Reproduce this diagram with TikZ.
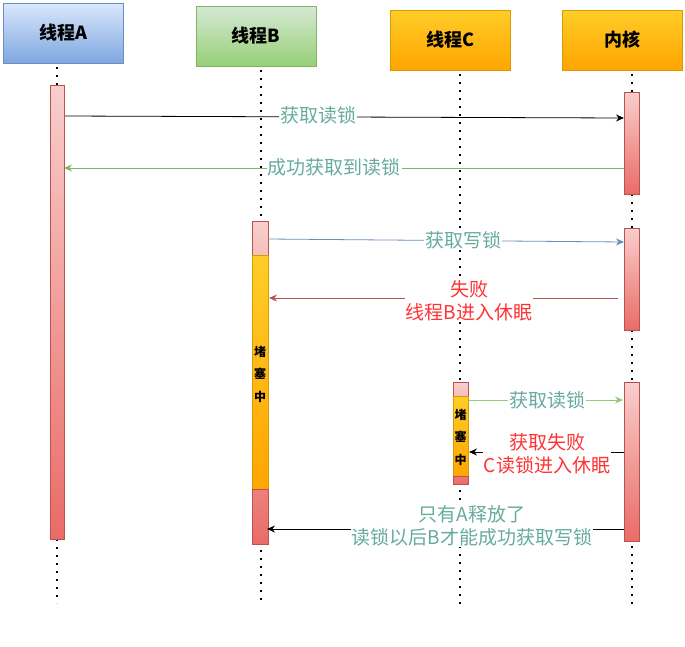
\documentclass[tikz,border=0pt]{standalone}
\usepackage{fontspec}
\newfontfamily\cjk{Noto Sans CJK SC}
\usetikzlibrary{arrows.meta}
\definecolor{blueT}{HTML}{DAE8FC}\definecolor{blueB}{HTML}{7EA6E0}\definecolor{blueD}{HTML}{6C8EBF}
\definecolor{greenT}{HTML}{D5E8D4}\definecolor{greenB}{HTML}{97D077}\definecolor{greenD}{HTML}{82B366}
\definecolor{orT}{HTML}{FFCD28}\definecolor{orB}{HTML}{FFA500}\definecolor{orD}{HTML}{D79B00}
\definecolor{redT}{HTML}{F8CECC}\definecolor{redB}{HTML}{EA6B66}\definecolor{redD}{HTML}{B85450}
\definecolor{teal}{HTML}{67AB9F}\definecolor{redtxt}{HTML}{FF3333}
\tikzset{
  hdr/.style={draw, minimum width=120pt, minimum height=60pt, inner sep=0pt, font=\cjk\fontsize{18}{20}\selectfont\bfseries},
  lifeline/.style={line width=1.6pt, dash pattern=on 1.6pt off 6.4pt},
  bar/.style={draw=redD, top color=redT, bottom color=redB, line width=0.7pt},
  blk/.style={draw=orD, top color=orT, bottom color=orB, line width=0.7pt},
  msg/.style={line width=0.8pt, -{Stealth[length=8pt,width=7pt]}},
  lbl/.style={fill=white, inner sep=1pt, font=\cjk\fontsize{19}{22.5}\selectfont, align=center},
  vtxt/.style={font=\cjk\fontsize{12}{22.5}\selectfont\bfseries, align=center, inner sep=0pt},
}
\begin{document}
\begin{tikzpicture}[x=1pt,y=-1pt]
\useasboundingbox (0,0) rectangle (685,646);
% headers
\node[hdr, draw=blueD, top color=blueT, bottom color=blueB] (hA) at (63,33) {线程A};
\node[hdr, draw=greenD, top color=greenT, bottom color=greenB] (hB) at (256,36) {线程B};
\node[hdr, draw=orD, top color=orT, bottom color=orB] (hC) at (450,40) {线程C};
\node[hdr, draw=orD, top color=orT, bottom color=orB] (hK) at (622,40) {内核};
% lifelines
\coordinate (eA) at (57,603);
\coordinate (eB) at (261,605);
\coordinate (eC) at (460,607);
\coordinate (eK) at (632,607);
\draw[lifeline] (57,67) -- (eA);
\draw[lifeline] (261,70) -- (eB);
\draw[lifeline] (460,74) -- (eC);
\draw[lifeline] (632,74) -- (eK);
% activation bars
\node[bar, minimum width=14pt, minimum height=454pt, inner sep=0pt] (bA) at (57,312) {};
\node[bar, minimum width=15pt, minimum height=102pt, inner sep=0pt] (k1) at (631.5,143) {};
\node[bar, minimum width=15pt, minimum height=102pt, inner sep=0pt] (k2) at (631.5,279) {};
\node[bar, minimum width=15pt, minimum height=159pt, inner sep=0pt] (k3) at (631.5,461.5) {};
% B bar
\filldraw[bar, top color=redT, bottom color=redT!85!redB] (252,221) rectangle (268,255);
\filldraw[blk] (252,255) rectangle (268,489);
\filldraw[bar, top color=redB!85!white, bottom color=redB] (252,489) rectangle (268,544);
\node[vtxt] (tB) at (260,374) {堵\\塞\\中};
% C bar
\filldraw[bar, top color=redT, bottom color=redT!85!redB] (453,382) rectangle (468,396);
\filldraw[blk] (453,396) rectangle (468,476);
\filldraw[bar, top color=redB!90!white, bottom color=redB] (453,476) rectangle (468,484);
\node[vtxt] (tC) at (460.5,437) {堵\\塞\\中};
% message anchors
\coordinate (a1) at (65,116); \coordinate (k1a) at (624,118);
\coordinate (k1b) at (624,168); \coordinate (a2) at (64,168);
\coordinate (b1) at (268,239); \coordinate (k2a) at (624,242);
\coordinate (k2b) at (618,298); \coordinate (b2) at (269,298);
\coordinate (c1) at (469,400); \coordinate (k3a) at (623,400);
\coordinate (k3b) at (624,452); \coordinate (c2) at (469,452);
\coordinate (k3c) at (624,529); \coordinate (b3) at (267,529);
% messages
\draw[msg, black] (a1) -- (k1a);
\node[lbl, text=teal] (l1) at (318,115) {获取读锁};
\draw[msg, greenD] (k1b) -- (a2);
\node[lbl, text=teal] (l2) at (334,167) {成功获取到读锁};
\draw[msg, blueD] (b1) -- (k2a);
\node[lbl, text=teal] (l3) at (463,240) {获取写锁};
\draw[msg, redD] (k2b) -- (b2);
\node[lbl, text=redtxt] (l4) at (469,301) {失败\\线程B进入休眠};
\draw[msg, greenB!80!greenD] (c1) -- (k3a);
\node[lbl, text=teal] (l5) at (547,400) {获取读锁};
\draw[msg, black] (k3b) -- (c2);
\node[lbl, text=redtxt] (l6) at (547,454) {获取失败\\C读锁进入休眠};
\draw[msg, black] (k3c) -- (b3);
\node[lbl, text=teal] (l7) at (472,526) {只有A释放了\\读锁以后B才能成功获取写锁};
\end{tikzpicture}
\end{document}
